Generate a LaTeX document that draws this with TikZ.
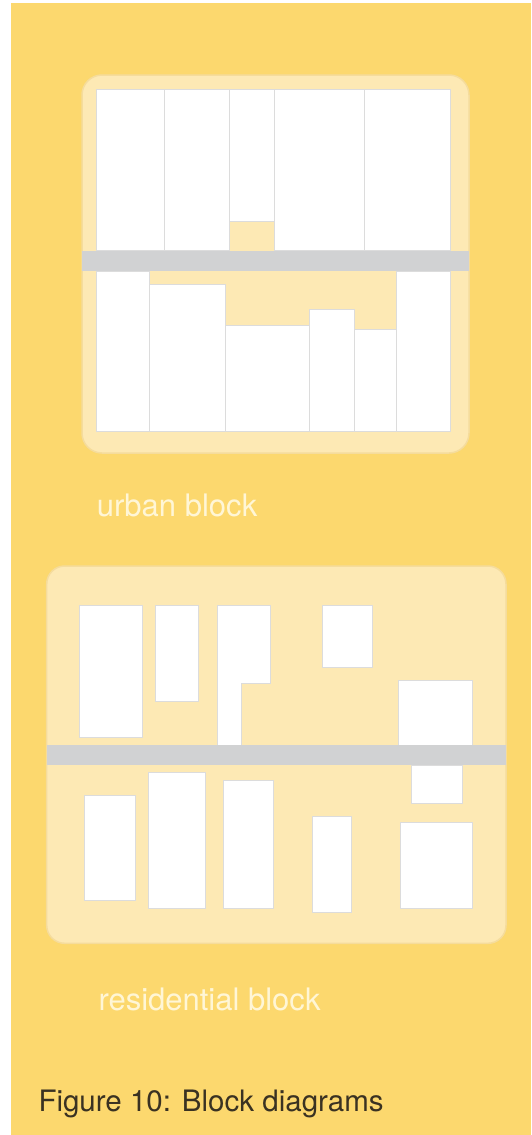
\documentclass[tikz,border=0pt]{standalone}
\usepackage{fontspec}
\setmainfont{TeX Gyre Heros}

\definecolor{sfondo}{HTML}{FCD86E}
\definecolor{lotto}{HTML}{FDE9B4}
\definecolor{bordolotto}{HTML}{F5DC9C}
\definecolor{strada}{HTML}{D1D2D3}
\definecolor{muro}{HTML}{DCDCDC}
\definecolor{testochiaro}{HTML}{FFF6D6}
\definecolor{testoscuro}{HTML}{3A3222}

\begin{document}
\begin{tikzpicture}[x = 1pt, y = -1pt,
    edificio/.style = {fill=white, draw=muro, line width=0.9pt},
    isolato/.style = {fill=lotto, draw=bordolotto, line width=1.5pt},
    etichetta/.style = {anchor=base west, inner sep=0pt, font=\fontsize{31}{36}\selectfont}]

    % Sfondo
    \useasboundingbox (0,0) rectangle (531,1135);
    \fill[white] (0,0) rectangle (531,1135);
    \fill[sfondo] (11,3) rectangle (531,1135);

    % Isolato urbano
    \draw[isolato, rounded corners=20pt] (82,75) rectangle (469,453);

    % Edifici sopra la strada
    \draw[edificio] (96.7,89.3) rectangle (164.3,250.7);
    \draw[edificio] (164.3,89.3) rectangle (229.3,250.7);
    \draw[edificio] (229.3,89.3) rectangle (274.7,221);
    \draw[edificio] (274.7,89.3) rectangle (364,250.7);
    \draw[edificio] (364,89.3) rectangle (450,250.7);

    % Edifici sotto la strada
    \draw[edificio] (96.7,271) rectangle (149,431.7);
    \draw[edificio] (149,284.3) rectangle (225.3,431.7);
    \draw[edificio] (225.3,325) rectangle (309.7,431.7);
    \draw[edificio] (309.7,309) rectangle (354.3,431.7);
    \draw[edificio] (354.3,329.3) rectangle (396,431.7);
    \draw[edificio] (396,271) rectangle (450,431.7);

    % Strada
    \fill[strada] (82,250.7) rectangle (469,271);

    \node[etichetta, text=testochiaro] (urbano) at (96.7,516) {urban block};

    % Isolato residenziale
    \draw[isolato, rounded corners=18pt] (46.7,566) rectangle (506,943.3);

    % Case sopra la strada
    \draw[edificio] (79,605.7) rectangle (142.3,737.7);
    \draw[edificio] (155.3,605.7) rectangle (198,701.7);
    \draw[edificio] (217.7,745) -- (217.7,605.7) -- (270.3,605.7) -- (270.3,683.3)
        -- (241,683.3) -- (241,745);
    \draw[edificio] (322.3,605.7) rectangle (372.7,667.3);
    \draw[edificio] (398.3,680) rectangle (472.7,745);

    % Case sotto la strada
    \draw[edificio] (411.7,765) rectangle (462.3,803);
    \draw[edificio] (84,795.7) rectangle (135.3,900.3);
    \draw[edificio] (148.7,772.3) rectangle (205.3,908.3);
    \draw[edificio] (223.3,780.7) rectangle (273.7,908.3);
    \draw[edificio] (312,816.7) rectangle (351,912);
    \draw[edificio] (400,822.7) rectangle (472.7,908.3);

    % Strada
    \fill[strada] (46.7,745) rectangle (506,765);

    \node[etichetta, text=testochiaro] (residenziale) at (98.3,1010) {residential block};

    % Didascalia
    \node[etichetta, text=testoscuro, font=\fontsize{29.5}{36}\selectfont] (didascalia)
        at (38.3,1111) {Figure 10: Block diagrams};

\end{tikzpicture}
\end{document}
